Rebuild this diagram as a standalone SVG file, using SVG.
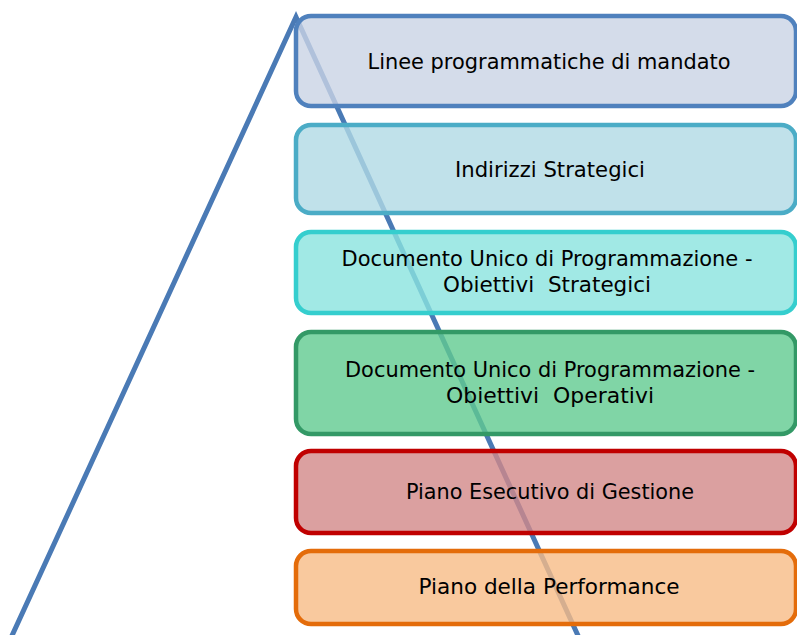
<svg xmlns="http://www.w3.org/2000/svg" width="797" height="635" viewBox="0 0 797 635">
<style>
.box{stroke-width:4.5;fill-opacity:0.8}
.t{font-family:"DejaVu Sans","Liberation Sans",sans-serif;font-size:20.5px;fill:#000;text-anchor:middle}
</style>
<rect width="797" height="635" fill="#fff"/>
<g id="connectors">
<polyline points="10,640 296,17 580,640" fill="none" stroke="#4a7ab5" stroke-width="5" stroke-linejoin="miter"/>
</g>
<g id="n1"><rect class="box" x="296" y="16" width="500" height="90" rx="15" fill="#c9d3e5" stroke="#4f81bd"/>
<text class="t" x="549" y="69" textLength="363" lengthAdjust="spacingAndGlyphs">Linee programmatiche di mandato</text></g>
<g id="n2"><rect class="box" x="296" y="125" width="500" height="88" rx="15" fill="#b0d9e5" stroke="#4bacc6"/>
<text class="t" x="550" y="177" textLength="190" lengthAdjust="spacingAndGlyphs">Indirizzi Strategici</text></g>
<g id="n3"><rect class="box" x="296" y="232" width="500" height="81" rx="15" fill="#8ae4df" stroke="#35cece"/>
<text class="t" x="547" y="266" textLength="411" lengthAdjust="spacingAndGlyphs">Documento Unico di Programmazione -</text>
<text class="t" x="547" y="292" textLength="208" lengthAdjust="spacingAndGlyphs" xml:space="preserve">Obiettivi  Strategici</text></g>
<g id="n4"><rect class="box" x="296" y="332" width="500" height="102" rx="15" fill="#60ca90" stroke="#339966"/>
<text class="t" x="550" y="377" textLength="410" lengthAdjust="spacingAndGlyphs">Documento Unico di Programmazione -</text>
<text class="t" x="550" y="403" textLength="208" lengthAdjust="spacingAndGlyphs" xml:space="preserve">Obiettivi  Operativi</text></g>
<g id="n5"><rect class="box" x="296" y="451" width="500" height="82" rx="15" fill="#d28888" stroke="#c00000"/>
<text class="t" x="550" y="499" textLength="288" lengthAdjust="spacingAndGlyphs">Piano Esecutivo di Gestione</text></g>
<g id="n6"><rect class="box" x="296" y="551" width="500" height="73" rx="15" fill="#f7bb86" stroke="#e46c0a"/>
<text class="t" x="549" y="594" textLength="261" lengthAdjust="spacingAndGlyphs">Piano della Performance</text></g>
</svg>
